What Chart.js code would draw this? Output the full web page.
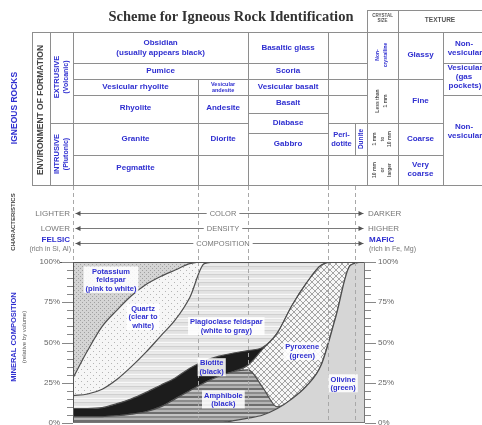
<!DOCTYPE html>
<html><head><meta charset="utf-8">
<script src="https://cdn.jsdelivr.net/npm/chart.js@4"></script>
<style>html,body{margin:0;padding:0;background:#fff}canvas{display:block}</style>
</head><body>
<canvas id="c" width="482" height="425"></canvas>
<script>
// ---- DATA (composition index 0 = felsic ... 100 = mafic; cumulative % by volume) ----
const xGrid          = [0,5,10,15,20,25,30,35,40,45,50,55,60,65,70,75,80,85,90,95,100];
const olivineTop     = [0,0,0,0,0,0,0,0,0,0,0,1.5,3,5,9,15,23,36,66,98,100];
const amphiboleTop   = [4,4,4,4.5,5.5,7,10,15,20,25,29,32,33,22,10,15,23,36,66,98,100];
const pyroxeneTop    = [4,4,4,4.5,5.5,7,10,15,20,25,29,32,36,46,56,73,87,98,100,100,100];
const biotiteTop     = [9,9,9.5,12,15,19,23.5,28,34,38.5,41.5,43.5,45,47,56,73,87,98,100,100,100];
const plagioclaseTop = [17,18,21,27,35,44,54,64,78,99,100,100,100,100,100,100,100,100,100,100,100];
const quartzTop      = [28,45,60,70,79,86,91,95,99,100,100,100,100,100,100,100,100,100,100,100,100];
const feldsparTop    = [100,100,100,100,100,100,100,100,100,100,100,100,100,100,100,100,100,100,100,100,100];
const yTicks = [0,25,50,75,100];
const rockDividers = [42.8, 60, 87.3, 96.6];
const mineralNames = ['Olivine','Amphibole','Pyroxene','Biotite','Plagioclase feldspar','Quartz','Potassium feldspar'];

const canvas = document.getElementById('c');
const cx = canvas.getContext('2d');
function tile(w,h,draw){const t=document.createElement('canvas');t.width=w;t.height=h;const g=t.getContext('2d');draw(g);return cx.createPattern(t,'repeat');}
const patK = tile(4,4,g=>{g.fillStyle='#d4d4d4';g.fillRect(0,0,4,4);g.fillStyle='#a0a0a0';g.fillRect(0,0,1,1);g.fillRect(2,2,1,1);});
const patQ = tile(6,6,g=>{g.fillStyle='#f6f6f6';g.fillRect(0,0,6,6);g.fillStyle='#b5b5b5';g.fillRect(0,0,1,1);g.fillRect(3,3,1,1);});
const patP = tile(4,8,g=>{const c=['#ebebeb','#ebebeb','#d0d0d0','#e2e2e2','#e2e2e2','#e6e6e6','#f8f8f8','#e4e4e4'];c.forEach((k,i)=>{g.fillStyle=k;g.fillRect(0,i,4,1);});});
const patA = tile(4,8,g=>{const c=['#8c8c8c','#8c8c8c','#b4b4b4','#b4b4b4','#6e6e6e','#6e6e6e','#c4c4c4','#c4c4c4'];c.forEach((k,i)=>{g.fillStyle=k;g.fillRect(0,i,4,1);});});
const patX = tile(6,6,g=>{g.fillStyle='#f7f7f7';g.fillRect(0,0,6,6);g.strokeStyle='#8e8e8e';g.lineWidth=0.8;g.beginPath();g.moveTo(0,0);g.lineTo(6,6);g.moveTo(6,0);g.lineTo(0,6);g.stroke();});

const pts = arr => arr.map((y,i)=>({x:xGrid[i],y}));
const tops = [olivineTop,amphiboleTop,pyroxeneTop,biotiteTop,plagioclaseTop,quartzTop,feldsparTop];
const fills = ['#d6d6d6',patA,patX,'#1c1c1c',patP,patQ,patK];
const datasets = tops.map((t,i)=>({label:mineralNames[i],data:pts(t),fill:i===0?'origin':'-1',backgroundColor:fills[i],borderColor:'#4d4d4d',borderWidth:1.2,pointRadius:0}));

const BLUE='#2f2fd0', GRAY='#555', LINE='#8e8e8e';
const F=(s,b)=>(b?'bold ':'')+s+'px "Liberation Sans"';
function T(ctx,s,x,y,font,color,align,base){ctx.font=font;ctx.fillStyle=color;ctx.textAlign=align||'center';ctx.textBaseline=base||'middle';ctx.fillText(s,x,y);}
function V(ctx,s,x,y,font,color){ctx.save();ctx.translate(x,y);ctx.rotate(-Math.PI/2);T(ctx,s,0,0,font,color);ctx.restore();}
function L(ctx,x1,y1,x2,y2,c,w,d){ctx.save();ctx.strokeStyle=c;ctx.lineWidth=w||1;ctx.setLineDash(d||[]);ctx.beginPath();ctx.moveTo(x1,y1);ctx.lineTo(x2,y2);ctx.stroke();ctx.restore();}
function box(ctx,lines,x,y,lh,font){ctx.font=font;let w=0;lines.forEach(s=>w=Math.max(w,ctx.measureText(s).width));const h=lh*lines.length;ctx.fillStyle='rgba(255,255,255,0.88)';ctx.fillRect(x-w/2-2,y-lh/2-1,w+4,h+1);lines.forEach((s,i)=>T(ctx,s,x,y+i*lh,font,BLUE));}

const deco = {
  id:'deco',
  beforeDraw(ch){const c=ch.ctx;c.save();c.fillStyle='#fff';c.fillRect(0,0,ch.width,ch.height);c.restore();},
  afterDatasetsDraw(ch){
    const c=ch.ctx, xs=ch.scales.x, ys=ch.scales.y, a=ch.chartArea;
    rockDividers.forEach(v=>{const x=Math.round(xs.getPixelForValue(v))+0.5;L(c,x,a.top,x,a.bottom,'#a8a8a8',1,[4,3]);});
    const X=v=>xs.getPixelForValue(v), Y=v=>ys.getPixelForValue(v);
    const f=F(7.5,1);
    box(c,['Potassium','feldspar','(pink to white)'],X(13),Y(94),8.5,f);
    box(c,['Quartz','(clear to','white)'],X(24),Y(71),8.5,f);
    box(c,['Plagioclase feldspar','(white to gray)'],X(52.5),Y(62.5),8.5,f);
    box(c,['Biotite','(black)'],X(47.5),Y(37),8.5,f);
    box(c,['Amphibole','(black)'],X(51.5),Y(17),8.5,f);
    box(c,['Pyroxene','(green)'],X(78.5),Y(47),8.5,f);
    box(c,['Olivine','(green)'],X(92.5),Y(27),8.5,f);
  },
  afterDraw(ch){
    const c=ch.ctx, xs=ch.scales.x, ys=ch.scales.y, a=ch.chartArea;
    const X=v=>Math.round(xs.getPixelForValue(v))+0.5, Y=v=>ys.getPixelForValue(v);
    // title
    T(c,'Scheme for Igneous Rock Identification',231,17,'bold 14.5px "Liberation Serif"','#333');
    // table grid
    const xr=[X(0),X(42.8),X(60),X(87.3),X(96.6),X(100.7)];
    const p=v=>v+0.5;
    const vl=[[p(32),32,185],[p(50),32,185],[xr[0],32,185],[xr[1],79,185],[xr[2],32,185],[xr[3],32,185],[xr[4],123,155],[xr[5],10,185],[p(398),10,185],[p(443),32,185]];
    vl.forEach(([x,y1,y2])=>L(c,x,y1,x,y2,LINE,1));
    const hl=[[10,xr[5],482],[32,32,482],[63,xr[0],xr[5]],[63,443,482],[79,xr[0],443],[95,xr[0],xr[5]],[95,443,482],[113,xr[2],xr[3]],[123,50,xr[2]],[123,xr[3],443],[133,xr[2],xr[3]],[155,xr[0],443],[185,32,482]];
    hl.forEach(([y,x1,x2])=>L(c,x1,p(y),x2,p(y),LINE,1));
    const cen=(u,v)=>(xs.getPixelForValue(u)+xs.getPixelForValue(v))/2;
    const bf=F(8,1), sf=F(5.5,1), tf=F(5,1);
    T(c,'Obsidian',cen(0,60),43,bf,BLUE); T(c,'(usually appears black)',cen(0,60),52.5,bf,BLUE);
    T(c,'Basaltic glass',cen(60,87.3),48,bf,BLUE);
    T(c,'Pumice',cen(0,60),71,bf,BLUE); T(c,'Scoria',cen(60,87.3),71,bf,BLUE);
    T(c,'Vesicular rhyolite',cen(0,42.8),87,bf,BLUE);
    T(c,'Vesicular',cen(42.8,60),84,sf,BLUE); T(c,'andesite',cen(42.8,60),90,sf,BLUE);
    T(c,'Vesicular basalt',cen(60,87.3),87,bf,BLUE);
    T(c,'Rhyolite',cen(0,42.8),108,bf,BLUE); T(c,'Andesite',cen(42.8,60),108,bf,BLUE);
    T(c,'Basalt',cen(60,87.3),103,bf,BLUE); T(c,'Diabase',cen(60,87.3),123,bf,BLUE); T(c,'Gabbro',cen(60,87.3),143.5,bf,BLUE);
    T(c,'Granite',cen(0,42.8),139,bf,BLUE); T(c,'Diorite',cen(42.8,60),139,bf,BLUE);
    T(c,'Peri-',cen(87.3,96.6),135,F(7.5,1),BLUE); T(c,'dotite',cen(87.3,96.6),144,F(7.5,1),BLUE);
    V(c,'Dunite',cen(96.6,100.7),139,F(6.5,1),BLUE);
    T(c,'Pegmatite',cen(0,42.8),168,bf,BLUE);
    // crystal size
    T(c,'CRYSTAL',382.5,16,F(4.5,1),GRAY); T(c,'SIZE',382.5,21,F(4.5,1),GRAY);
    T(c,'TEXTURE',440,20,F(6.5,1),GRAY);
    V(c,'Non-',378,55,tf,BLUE); V(c,'crystalline',386,55,tf,BLUE);
    V(c,'Less than',378,101,tf,GRAY); V(c,'1 mm',386,101,tf,GRAY);
    V(c,'1 mm',375,139,tf,GRAY); V(c,'to',382.5,139,tf,GRAY); V(c,'10 mm',390,139,tf,GRAY);
    V(c,'10 mm',375,170,tf,GRAY); V(c,'or',382.5,170,tf,GRAY); V(c,'larger',390,170,tf,GRAY);
    // texture
    T(c,'Glassy',420.5,55,bf,BLUE); T(c,'Fine',420.5,101,bf,BLUE); T(c,'Coarse',420.5,139,bf,BLUE);
    T(c,'Very',420.5,165,bf,BLUE); T(c,'coarse',420.5,174,bf,BLUE);
    T(c,'Non-',464,44,bf,BLUE); T(c,'vesicular',465,52.5,bf,BLUE);
    T(c,'Vesicular',465,68,bf,BLUE); T(c,'(gas',464,77,bf,BLUE); T(c,'pockets)',465,86,bf,BLUE);
    T(c,'Non-',464,127,bf,BLUE); T(c,'vesicular',465,136,bf,BLUE);
    // left vertical labels
    V(c,'IGNEOUS ROCKS',15,108,F(8.5,1),BLUE);
    V(c,'ENVIRONMENT OF FORMATION',41,110,F(8.5,1),'#444');
    V(c,'EXTRUSIVE',57,77,F(7.5,1),BLUE); V(c,'(Volcanic)',66,77,F(7,1),BLUE);
    V(c,'INTRUSIVE',57,154,F(7.5,1),BLUE); V(c,'(Plutonic)',66,154,F(7,1),BLUE);
    V(c,'CHARACTERISTICS',13,222,F(6,1),'#444');
    V(c,'MINERAL COMPOSITION',14,337,F(7.5,1),BLUE);
    V(c,'(relative by volume)',24,337,F(6),GRAY);
    // dashed dividers through characteristics
    [0].concat(rockDividers).forEach(v=>{const x=X(v);L(c,x,186,x,a.top,'#a8a8a8',1,[4,3]);});
    // characteristic arrows
    const rows=[[213,'LIGHTER','COLOR','DARKER'],[228,'LOWER','DENSITY','HIGHER'],[243,'','COMPOSITION','']];
    const x0=X(0)+2, x1=X(100)-2, cf=F(7.5);
    rows.forEach(([y,l,m,r])=>{
      L(c,x0,y+0.5,x1,y+0.5,'#7a7a7a',1);
      c.fillStyle='#555';c.beginPath();c.moveTo(x0,y+0.5);c.lineTo(x0+5,y-2);c.lineTo(x0+5,y+3);c.fill();
      c.beginPath();c.moveTo(x1,y+0.5);c.lineTo(x1-5,y-2);c.lineTo(x1-5,y+3);c.fill();
      c.font=cf;const w=c.measureText(m).width;c.fillStyle='#fff';c.fillRect(223-w/2-3,y-4,w+6,9);
      T(c,m,223,y+0.5,cf,'#777');
      if(l)T(c,l,70,y+0.5,F(8),'#777','right');
      if(r)T(c,r,368,y+0.5,F(8),'#777','left');
    });
    T(c,'FELSIC',70,240,F(8,1),BLUE,'right');
    T(c,'(rich in Si, Al)',71,249,F(7),'#777','right');
    T(c,'MAFIC',369,240,F(8,1),BLUE,'left');
    T(c,'(rich in Fe, Mg)',369,249,F(7),'#777','left');
    // axes frame
    L(c,60,Math.round(a.top)+0.5,376,Math.round(a.top)+0.5,'#555',1);
    L(c,X(0),a.top,X(0),a.bottom,'#555',1);
    L(c,Math.round(a.right)-0.5,a.top,Math.round(a.right)-0.5,a.bottom,'#777',1);
    L(c,a.left,Math.round(a.bottom)-0.5,a.right,Math.round(a.bottom)-0.5,'#777',1);
    for(let v=0;v<=100;v+=5){const y=Math.round(Y(v))+0.5;const maj=yTicks.includes(v);
      L(c,maj?62:67,y,a.left,y,'#888',1); L(c,a.right,y,a.right+(maj?11:6),y,'#888',1);}
    yTicks.forEach(v=>{const y=Y(v);T(c,v+'%',60,y,F(8),'#666','right');T(c,v+'%',378,y,F(8),'#666','left');});
  }
};

new Chart(canvas,{
  type:'line',
  data:{datasets},
  options:{
    responsive:false, animation:false,
    layout:{padding:{left:73,right:117,top:262,bottom:2}},
    scales:{x:{type:'linear',min:0,max:100,display:false},y:{min:0,max:100,display:false}},
    elements:{line:{cubicInterpolationMode:'monotone'},point:{radius:0}},
    plugins:{legend:{display:false},tooltip:{enabled:false}}
  },
  plugins:[deco]
});
</script>
</body></html>
